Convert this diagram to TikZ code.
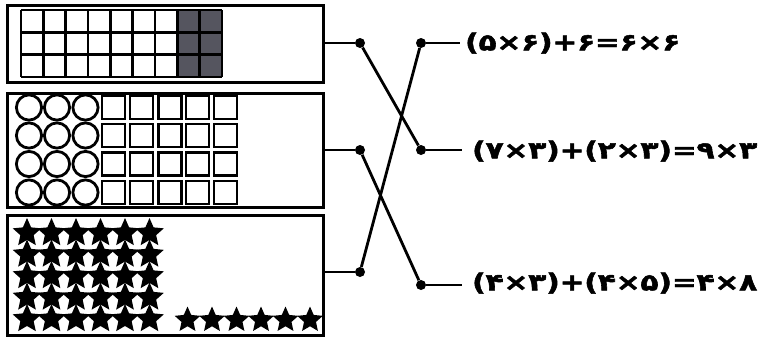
\documentclass[tikz,border=0pt]{standalone}
\usepackage{fontspec}
\usetikzlibrary{shapes.geometric}
\newfontfamily\fafont[BoldFont={DejaVu Sans Bold}, BoldFeatures={FakeBold=2}]{DejaVu Sans}
\definecolor{shadecol}{RGB}{85,85,95}
\tikzset{
  boxframe/.style={draw=black, line width=3pt, inner sep=0pt},
  gridline/.style={line width=2.8pt, black},
  ringshape/.style={draw=black, line width=2.8pt},
  starshape/.style={star, star points=5, star point ratio=2.15, fill=black, draw=none, inner sep=0pt},
  dotnode/.style={circle, fill=black, inner sep=0pt, minimum size=10pt},
  wire/.style={line width=2.8pt, black},
  eqtext/.style={anchor=west, inner sep=0pt, font=\fafont\bfseries}
}
\begin{document}
\begin{tikzpicture}[x=1pt,y=-1pt]
\useasboundingbox (0,0) rectangle (759,338);
% boxes
\node[boxframe, minimum width=316pt, minimum height=77pt] (b1) at (165,43.5) {};
\node[boxframe, minimum width=316pt, minimum height=114pt] (b2) at (165,150) {};
\node[boxframe, minimum width=316pt, minimum height=120pt] (b3) at (165,275) {};
% box 1 grid
\fill[shadecol] (177.3,10) rectangle (222,77);
\foreach \i in {0,...,9}{
  \draw[gridline] ({21+22.333*\i},10) -- ({21+22.333*\i},77);
}
\foreach \j in {0,...,3}{
  \draw[gridline] (21,{10+22.333*\j}) -- (222,{10+22.333*\j});
}
% box 2 circles and squares
\foreach \cx in {29,57,85.5}{
  \foreach \cy in {107.5,135.5,164,192.5}{
    \draw[ringshape] (\cx,\cy) circle (12.6pt);
  }
}
\foreach \cx in {113.5,141.5,170,197.5,225.5}{
  \foreach \cy in {107.5,135.5,164,192.5}{
    \draw[ringshape] ({\cx-11.5},{\cy-11.5}) rectangle ({\cx+11.5},{\cy+11.5});
  }
}
% box 3 stars
\foreach \cx [count=\a] in {27,51.5,76,100.5,125,149.5}{
  \foreach \cy [count=\b] in {233,254.5,276,297.5,319}{
    \node[starshape, minimum size=30pt] (s\a\b) at (\cx,\cy) {};
  }
}
\foreach \cx [count=\a] in {187.5,212,236.5,261,285.5,310}{
  \node[starshape, minimum size=27pt] (t\a) at (\cx,320) {};
}
% dots
\node[dotnode] (l1) at (360,43) {};
\node[dotnode] (l2) at (360,150) {};
\node[dotnode] (l3) at (360,272) {};
\node[dotnode] (r1) at (421,43) {};
\node[dotnode] (r2) at (421,150) {};
\node[dotnode] (r3) at (421,285) {};
% equations
\node[eqtext] (e1) at (465,43) {\resizebox*{215pt}{21pt}{(۵×۶)+۶=۶×۶}};
\node[eqtext] (e2) at (472,151) {\resizebox*{285pt}{21pt}{(۷×۳)+(۲×۳)=۹×۳}};
\node[eqtext] (e3) at (472,283) {\resizebox*{285pt}{21pt}{(۴×۳)+(۴×۵)=۴×۸}};
% wires
\draw[wire] (b1.east |- l1) -- (l1);
\draw[wire] (b2.east |- l2) -- (l2);
\draw[wire] (b3.east |- l3) -- (l3);
\draw[wire] (l1) -- (r2);
\draw[wire] (l2) -- (r3);
\draw[wire] (l3) -- (r1);
\draw[wire] (r1) -- (460,43);
\draw[wire] (r2) -- (462,150);
\draw[wire] (r3) -- (462,285);
\end{tikzpicture}
\end{document}
